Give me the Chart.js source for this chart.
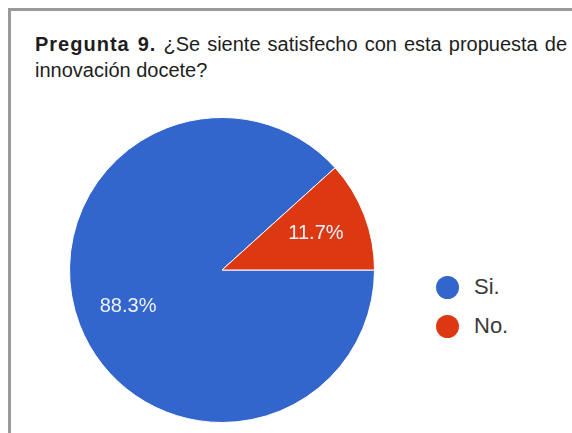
<!DOCTYPE html>
<html>
<head>
<meta charset="utf-8">
<script src="https://cdn.jsdelivr.net/npm/chart.js@4/dist/chart.umd.min.js"></script>
<style>
  html, body { margin: 0; padding: 0; background: #fff; }
  body { width: 572px; height: 433px; position: relative; overflow: hidden; font-family: "Liberation Sans", Arial, sans-serif; }
  #frame { position: absolute; left: 8px; top: 8px; width: 600px; height: 500px; border-top: 3px solid #9a9a9a; border-left: 3px solid #9a9a9a; }
  #title { position: absolute; left: 35px; top: 31px; width: 532px; font-size: 20px; line-height: 26px; color: #1e1e1e; text-align: justify; }
  #title b { font-weight: bold; letter-spacing: 1px; }
  #wrap { position: absolute; left: 60px; top: 108px; width: 324px; height: 324px; }
  #legend { position: absolute; left: 436px; top: 275px; font-size: 22px; color: #3a3a3a; }
  .item { height: 24px; margin-bottom: 15px; display: flex; align-items: center; line-height: 24px; }
  .dot { width: 23px; height: 23px; border-radius: 50%; margin-right: 15px; }
</style>
</head>
<body>
<div id="frame"></div>
<div id="title"><b>Pregunta 9.</b> ¿Se siente satisfecho con esta propuesta de innovación docete?</div>
<div id="wrap"><canvas id="myChart"></canvas></div>
<div id="legend"></div>
<script>
const labels = ["Si.", "No."];
const values = [88.3, 11.7];
const colors = ["#3366cc", "#dc3912"];

// percentage text inside each slice
const sliceLabels = {
  id: "sliceLabels",
  afterDatasetsDraw(chart) {
    const ctx = chart.ctx;
    const meta = chart.getDatasetMeta(0);
    ctx.save();
    ctx.fillStyle = "#eef2fa";
    ctx.font = "20px 'Liberation Sans', Arial, sans-serif";
    ctx.textAlign = "center";
    ctx.textBaseline = "middle";
    meta.data.forEach((arc, i) => {
      const mid = (arc.startAngle + arc.endAngle) / 2;
      const r = arc.outerRadius * 0.66;
      ctx.fillText(values[i].toFixed(1) + "%", arc.x + Math.cos(mid) * r, arc.y + Math.sin(mid) * r);
    });
    ctx.restore();
  }
};

const ctx = document.getElementById("myChart").getContext("2d");
const chart = new Chart(ctx, {
  type: "pie",
  data: {
    labels: labels,
    datasets: [{
      data: values,
      backgroundColor: colors,
      borderColor: "#ffffff",
      borderWidth: 1
    }]
  },
  options: {
    responsive: true,
    maintainAspectRatio: false,
    animation: false,
    rotation: 90,
    layout: { padding: 9 },
    plugins: {
      legend: { display: false },
      tooltip: { enabled: false }
    }
  },
  plugins: [sliceLabels]
});

const legend = document.getElementById("legend");
labels.forEach((name, i) => {
  const row = document.createElement("div");
  row.className = "item";
  row.innerHTML = `<span class="dot" style="background:${colors[i]}"></span><span>${name}</span>`;
  legend.appendChild(row);
});
</script>
</body>
</html>
